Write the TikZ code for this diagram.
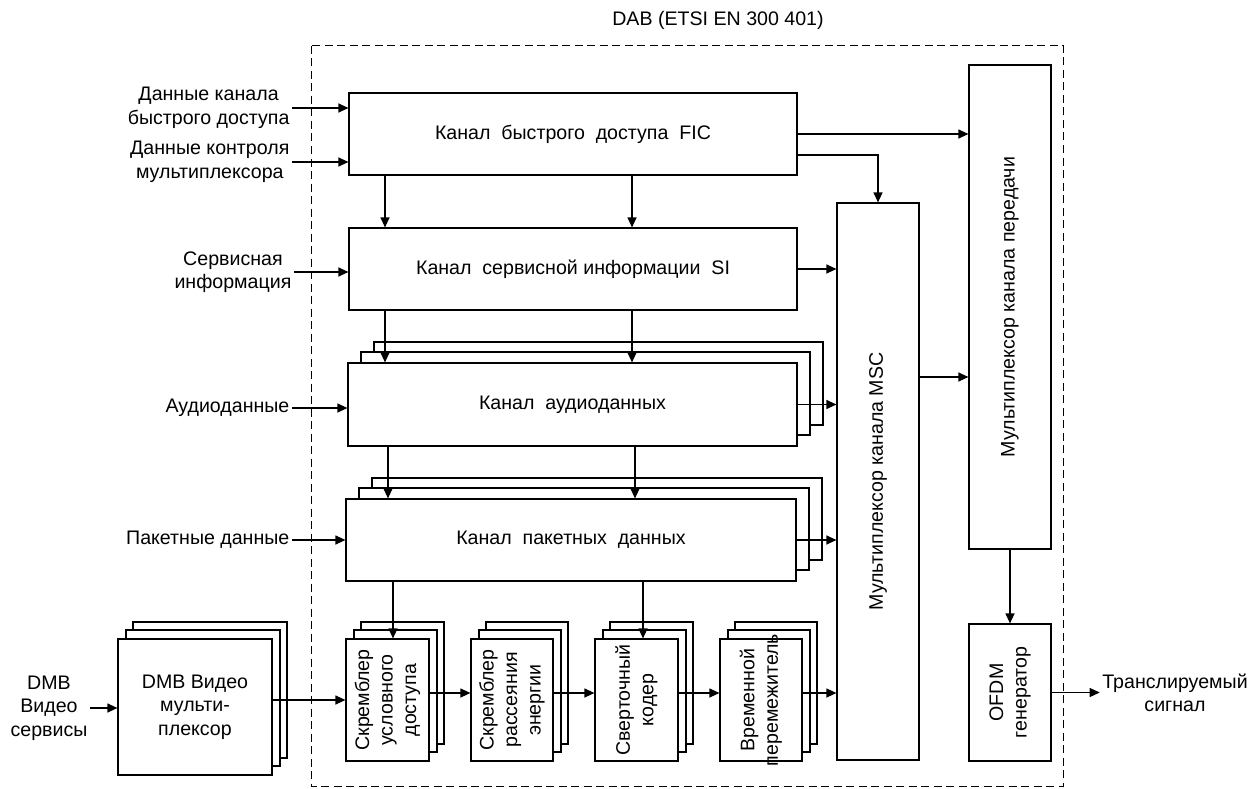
\documentclass[tikz,border=0pt]{standalone}
\usepackage{fontspec}
\setmainfont{Liberation Sans}
\usetikzlibrary{arrows.meta,shadows}
\tikzset{
  block/.style={draw, fill=white, line width=1.2pt, inner sep=0pt},
  bigstack/.style={block,
    general shadow={draw, fill=white, line width=1.2pt, shadow xshift=26pt, shadow yshift=21pt},
    general shadow={draw, fill=white, line width=1.2pt, shadow xshift=13pt, shadow yshift=11pt}},
  smallstack/.style={block,
    general shadow={draw, fill=white, line width=1.2pt, shadow xshift=15pt, shadow yshift=17pt},
    general shadow={draw, fill=white, line width=1.2pt, shadow xshift=8pt, shadow yshift=9pt}},
  txt/.style={align=center, inner sep=2pt},
  vtxt/.style={rotate=90, align=center}
}
\begin{document}
\begin{tikzpicture}[x=1pt, y=-1pt, line width=1.2pt,
    >={Triangle[length=10pt,width=9pt]},
    font=\fontsize{19.6}{23.5}\selectfont]
  \useasboundingbox (0,0) rectangle (1250,789);
  \draw[dash pattern=on 8pt off 4.5pt, line width=1pt] (311,46) rectangle (1063,786);
  \node (dab) at (718,20) {DAB (ETSI EN 300 401)};

  \node[block, minimum width=448, minimum height=82] (fic) at (573,134) {Канал\ \ быстрого\ \ доступа\ \ FIC};
  \node[block, minimum width=448, minimum height=82] (si) at (573,269) {Канал\ \ сервисной информации\ \ SI};
  \node[bigstack, minimum width=449, minimum height=83] (audio) at (572.5,404.5) {Канал\ \ аудиоданных};
  \node[bigstack, minimum width=450, minimum height=82] (pkt) at (571,540) {Канал\ \ пакетных\ \ данных};
  \node[block, minimum width=82, minimum height=557,
    label={[vtxt]center:Мультиплексор канала MSC}] (msc) at (878,481.5) {};
  \node[block, minimum width=82, minimum height=484,
    label={[vtxt]center:Мультиплексор канала передачи}] (txm) at (1010,307) {};
  \node[block, minimum width=82, minimum height=137,
    label={[vtxt]center:OFDM\\генератор}] (ofdm) at (1010,692.5) {};

  \node[smallstack, minimum width=83, minimum height=122,
    label={[vtxt]center:Скремблер\\условного\\доступа}] (scr) at (387.5,700) {};
  \node[smallstack, minimum width=82, minimum height=122,
    label={[vtxt]center:Скремблер\\рассеяния\\энергии}] (ens) at (512,700) {};
  \node[smallstack, minimum width=83, minimum height=122,
    label={[vtxt]center:Сверточный\\кодер}] (conv) at (636.5,700) {};
  \node[smallstack, minimum width=82, minimum height=122,
    label={[vtxt]center:Временной\\перемежитель}] (tint) at (761,700) {};
  \node[smallstack, minimum width=154, minimum height=136, align=center] (dmb) at (195,707) {DMB Видео\\мульти-\\плексор};

  \node[txt, anchor=east] (in1) at (292,108) {Данные канала\\быстрого доступа};
  \node[txt, anchor=east] (in2) at (292,162) {Данные контроля\\мультиплексора};
  \node[txt, anchor=east] (in3) at (294,272) {Сервисная\\информация};
  \node[txt, anchor=east] (in4) at (292,408) {Аудиоданные};
  \node[txt, anchor=east] (in5) at (292,540) {Пакетные данные};
  \node[txt] (dmbin) at (49,708) {DMB\\Видео\\сервисы};
  \node[txt] (out) at (1175,693) {Транслируемый\\сигнал};

  \coordinate (c1) at (385,0);
  \coordinate (c2) at (632,0);
  \coordinate (c3) at (388,0);
  \coordinate (c4) at (635,0);
  \coordinate (c5) at (393,0);
  \coordinate (c6) at (643,0);
  \coordinate (k) at (0,155);
  \coordinate (m) at (0,377);
  \coordinate (r) at (0,693);

  \draw[->] (in1.east) -- (in1.east -| fic.west);
  \draw[->] (in2.east) -- (in2.east -| fic.west);
  \draw[->] (in3.east) -- (in3.east -| si.west);
  \draw[->] (in4.east) -- (in4.east -| audio.west);
  \draw[->] (in5.east) -- (in5.east -| pkt.west);

  \draw[->] (fic.south -| c1) -- (si.north -| c1);
  \draw[->] (fic.south -| c2) -- (si.north -| c2);
  \draw[->] (si.south -| c1) -- (audio.north -| c1);
  \draw[->] (si.south -| c2) -- (audio.north -| c2);
  \draw[->] (audio.south -| c3) -- (pkt.north -| c3);
  \draw[->] (audio.south -| c4) -- (pkt.north -| c4);
  \draw[->] (pkt.south -| c5) -- (scr.north -| c5);
  \draw[->] (pkt.south -| c6) -- (conv.north -| c6);

  \draw[->] (fic.east) -- (fic.east -| txm.west);
  \draw[->] (fic.east |- k) -| (msc.north);
  \draw[->] (si.east) -- (si.east -| msc.west);
  \draw[->] (audio.east) -- (audio.east -| msc.west);
  \draw[->] (pkt.east) -- (pkt.east -| msc.west);
  \draw[->] (msc.east |- m) -- (txm.west |- m);
  \draw[->] (txm.south) -- (ofdm.north);
  \draw[->] (ofdm.east) -- (ofdm.east -| out.west);

  \draw[->] (dmbin.east) -- (dmbin.east -| dmb.west);
  \draw[->] (dmb.east |- scr.west) -- (scr.west);
  \draw[->] (scr.east |- r) -- (ens.west |- r);
  \draw[->] (ens.east |- r) -- (conv.west |- r);
  \draw[->] (conv.east |- r) -- (tint.west |- r);
  \draw[->] (tint.east |- r) -- (msc.west |- r);
\end{tikzpicture}
\end{document}
